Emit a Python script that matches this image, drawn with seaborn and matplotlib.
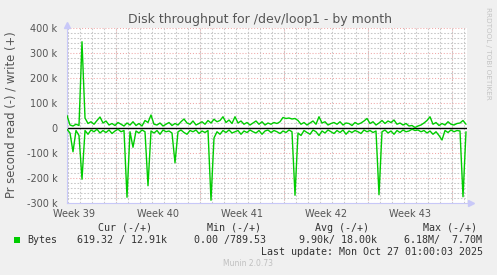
import numpy as np
import pandas as pd
import matplotlib
matplotlib.use("Agg")
import matplotlib.pyplot as plt
import matplotlib.dates as mdates
from matplotlib.patches import Rectangle
import seaborn as sns

sns.set_theme(style="white")
plt.rcParams['font.family'] = ['DejaVu Sans']

# ---------------- data ----------------
title = "Disk throughput for /dev/loop1 - by month"
ylabel = "Pr second read (-) / write (+)"
start_time = "2025-09-24 22:00"
sample_step = "6h"

# write (+) in kB/s
write_k = [50, 12, 8, 15, 10, 345, 40, 18, 25, 15, 30, 44, 20, 28, 12, 18, 10, 22, 15, 8,
           20, 12, 25, 10, 18, 8, 30, 22, 52, 15, 12, 20, 8, 15, 22, 10, 18, 12, 25, 36,
           20, 15, 28, 12, 18, 25, 15, 30, 20, 35, 25, 30, 45, 22, 32, 18, 45, 20, 28, 15,
           22, 12, 20, 28, 15, 25, 12, 20, 15, 22, 18, 25, 42, 38, 40, 36, 38, 30, 15, 22,
           12, 20, 28, 15, 45, 20, 25, 12, 18, 22, 15, 25, 12, 20, 18, 10, 22, 15, 20, 28,
           38, 18, 25, 12, 20, 30, 18, 28, 22, 32, 15, 20, 12, 18, 8, 10, 2, 8, 12, 20,
           30, 45, 15, 22, 10, 18, 12, 25, 15, 12, 18, 20, 30, 15]
# read (-) magnitudes in kB/s
read_k = [5, 20, 95, 10, 30, 205, 10, 25, 8, 15, 5, 20, 10, 18, 8, 22, 12, 5, 15, 10,
          277, 15, 77, 12, 20, 8, 15, 231, 12, 20, 10, 25, 8, 15, 12, 20, 139, 15, 8, 18,
          25, 10, 15, 8, 22, 12, 18, 10, 289, 40, 15, 25, 10, 18, 8, 20, 15, 10, 25, 12,
          18, 8, 15, 20, 10, 25, 12, 8, 18, 10, 15, 22, 12, 18, 8, 15, 269, 20, 30, 10,
          18, 25, 8, 15, 30, 12, 20, 8, 15, 22, 10, 18, 8, 25, 12, 18, 10, 15, 22, 8,
          15, 10, 18, 12, 267, 15, 8, 20, 12, 25, 10, 18, 8, 15, 12, 5, 10, 8, 15, 10,
          20, 12, 25, 15, 30, 48, 10, 18, 8, 15, 10, 12, 275, 15]

week_labels = ["Week 39", "Week 40", "Week 41", "Week 42", "Week 43"]
week_starts = ["2025-09-22", "2025-09-29", "2025-10-06", "2025-10-13", "2025-10-20", "2025-10-27"]
yticks_k = [-300, -200, -100, 0, 100, 200, 300, 400]

legend_header = ["Cur (-/+)", "Min (-/+)", "Avg (-/+)", "Max (-/+)"]
legend_values = ["619.32 / 12.91k", "0.00 /789.53", "9.90k/ 18.00k", "6.18M/  7.70M"]
series_name = "Bytes"
last_update = "Last update: Mon Oct 27 01:00:03 2025"
footer = "Munin 2.0.73"
side_text = "RRDTOOL / TOBI OETIKER"

# ---------------- build ----------------
times = pd.date_range(start_time, periods=len(write_k), freq=sample_step)
df = pd.concat([
    pd.DataFrame({"time": times, "value": np.array(write_k) * 1000.0, "dir": "write"}),
    pd.DataFrame({"time": times, "value": -np.array(read_k) * 1000.0, "dir": "read"}),
])

W, H = 497, 275
fig = plt.figure(figsize=(W / 100, H / 100), dpi=100, facecolor="#F0F0F0")
ax = fig.add_axes([67 / W, (H - 203) / H, 400 / W, 175 / H])
ax.set_facecolor("white")

x0 = pd.Timestamp(start_time)
x1 = x0 + pd.Timedelta(days=400 / 12)
ax.set_xlim(x0, x1)
ax.set_ylim(-300000, 400000)

# grids
ax.yaxis.set_minor_locator(plt.MultipleLocator(20000))
ax.xaxis.set_minor_locator(mdates.DayLocator())
ax.grid(which="minor", color="#C8C8C8", linestyle=(0, (1.6, 1.6)), linewidth=0.75, zorder=0)
for yv in yticks_k:
    if yv != 0:
        ax.axhline(yv * 1000, color="#F0A8A8", linestyle=(0, (1, 1.8)), linewidth=0.75, zorder=0.5)
for ws in week_starts:
    ax.axvline(pd.Timestamp(ws), color="#F0A8A8", linestyle=(0, (1, 1.8)), linewidth=0.75, zorder=0.5)

sns.lineplot(data=df, x="time", y="value", hue="dir", palette={"write": "#00CC00", "read": "#00CC00"},
             legend=False, linewidth=1.0, ax=ax, zorder=3)
ax.axhline(0, color="black", linewidth=1.0, zorder=2)

# ticks
ax.set_yticks([v * 1000 for v in yticks_k])
ax.set_yticklabels([("%d k" % v) if v != 0 else "0" for v in yticks_k])
centers = [pd.Timestamp(week_starts[i]) + (pd.Timestamp(week_starts[i + 1]) - pd.Timestamp(week_starts[i])) / 2
           for i in range(len(week_labels))]
ax.set_xticks(centers)
ax.set_xticklabels(week_labels)
ax.tick_params(axis="both", which="both", length=0, labelsize=7, labelcolor="#555555")
ax.tick_params(axis="y", pad=7)
ax.tick_params(axis="x", pad=4)
ax.set_xlabel("")
ax.set_ylabel("")

for s in ["top", "right"]:
    ax.spines[s].set_visible(False)
for s in ["left", "bottom"]:
    ax.spines[s].set_color("#C8C8F8")
    ax.spines[s].set_linewidth(0.8)
ax.plot([0], [1.02], marker="^", color="#C8C8F8", markersize=4, transform=ax.transAxes, clip_on=False)
ax.plot([1.01], [0], marker=">", color="#C8C8F8", markersize=4, transform=ax.transAxes, clip_on=False)

def ft(x, y, s, **kw):
    fig.text(x / W, 1 - y / H, s, **kw)

ft(260, 20, title, fontsize=9, color="#555555", ha="center", va="center")
ft(11, 115, ylabel, fontsize=8.4, color="#555555", ha="center", va="center", rotation=90)
ft(488, 53, side_text, fontsize=5.2, color="#C4C4C4", ha="center", va="center", rotation=270)

mono = dict(fontsize=7.2, family="DejaVu Sans Mono", color="#333333", va="center")
for xh, s in zip([98, 207, 315, 423], legend_header):
    ft(xh, 228, s, ha="left", **mono)
ft(27, 240, series_name, ha="left", **mono)
for xv, s in zip([77, 194, 299, 404], legend_values):
    ft(xv, 240, s, ha="left", **mono)
ft(483, 252, last_update, ha="right", **mono)
fig.patches.append(Rectangle((14 / W, 1 - 243 / H), 6 / W, 6 / H, transform=fig.transFigure,
                             facecolor="#00CC00", edgecolor="none"))
ft(248, 264, footer, fontsize=5.5, color="#C0C0C0", ha="center", va="center")

fig.savefig("out.png", dpi=100, facecolor=fig.get_facecolor())
